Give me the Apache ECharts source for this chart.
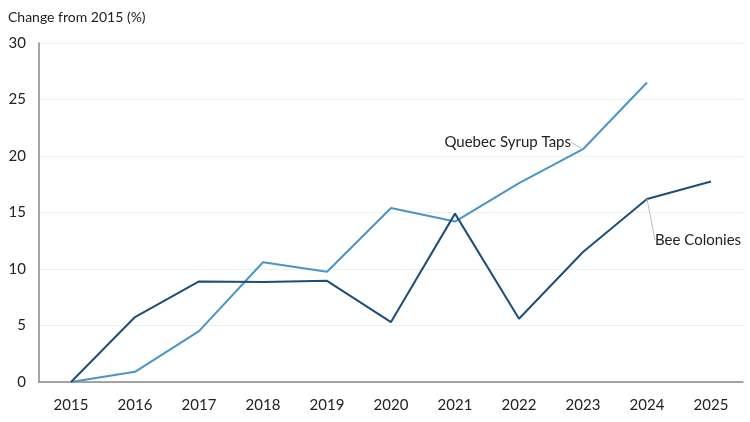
<!DOCTYPE html>
<html>
<head>
<meta charset="utf-8">
<script src="https://cdn.jsdelivr.net/npm/echarts@6/dist/echarts.min.js"></script>
<style>
  html, body { margin: 0; padding: 0; background: #fff; }
  #chart { width: 750px; height: 422px; }
</style>
</head>
<body>
<div id="chart"></div>
<script>
const years = ['2015', '2016', '2017', '2018', '2019', '2020', '2021', '2022', '2023', '2024', '2025'];
const beeColonies = [0, 5.75, 8.9, 8.85, 8.95, 5.3, 14.9, 5.6, 11.5, 16.2, 17.75];
const syrupTaps = [0, 0.9, 4.5, 10.6, 9.75, 15.4, 14.2, 17.6, 20.6, 26.5, null];
const yTicks = [0, 5, 10, 15, 20, 25, 30];

const font = 'Lato, "Open Sans", sans-serif';
const chart = echarts.init(document.getElementById('chart'));

// show a label only on one point of a series
function withLabel(values, idx, text, pos) {
  return values.map((v, i) => {
    if (i !== idx) return v;
    return {
      value: v,
      label: {
        show: true,
        formatter: text,
        position: pos,
        distance: 0,
        color: '#222',
        fontSize: 15,
        fontFamily: font
      }
    };
  });
}

const guide = { show: true, lineStyle: { color: '#bbb', width: 1 } };

const option = {
  animation: false,
  title: {
    text: 'Change from 2015 (%)',
    left: 3,
    top: 5,
    textStyle: { fontSize: 14, fontWeight: 'normal', color: '#222', fontFamily: font }
  },
  grid: { left: 39, right: 7, top: 43, bottom: 40 },
  xAxis: {
    type: 'category',
    data: years,
    boundaryGap: true,
    axisLine: { lineStyle: { color: '#888', width: 1.5 } },
    axisTick: { show: false },
    axisLabel: { color: '#222', fontSize: 15, fontFamily: font, margin: 16 }
  },
  yAxis: {
    type: 'value',
    min: yTicks[0],
    max: yTicks[yTicks.length - 1],
    interval: 5,
    axisLine: { show: true, lineStyle: { color: '#888', width: 1.5 } },
    axisTick: { show: false },
    axisLabel: { color: '#222', fontSize: 15, fontFamily: font, margin: 13 },
    splitLine: { lineStyle: { color: '#eeeeee', width: 1 } }
  },
  series: [
    {
      name: 'Bee Colonies',
      type: 'line',
      data: withLabel(beeColonies, 9, 'Bee Colonies', 'right'),
      symbol: 'circle',
      symbolSize: 0.01,
      lineStyle: { color: '#1b4e79', width: 2 },
      itemStyle: { color: '#1b4e79' },
      labelLine: guide,
      labelLayout: { dx: 8, dy: 41 },
      z: 3
    },
    {
      name: 'Quebec Syrup Taps',
      type: 'line',
      data: withLabel(syrupTaps, 8, 'Quebec Syrup Taps', 'left'),
      symbol: 'circle',
      symbolSize: 0.01,
      lineStyle: { color: '#4a95c7', width: 2 },
      itemStyle: { color: '#4a95c7' },
      labelLine: guide,
      labelLayout: { dx: -12, dy: -7 },
      z: 2
    }
  ]
};
chart.setOption(option);
</script>
</body>
</html>
